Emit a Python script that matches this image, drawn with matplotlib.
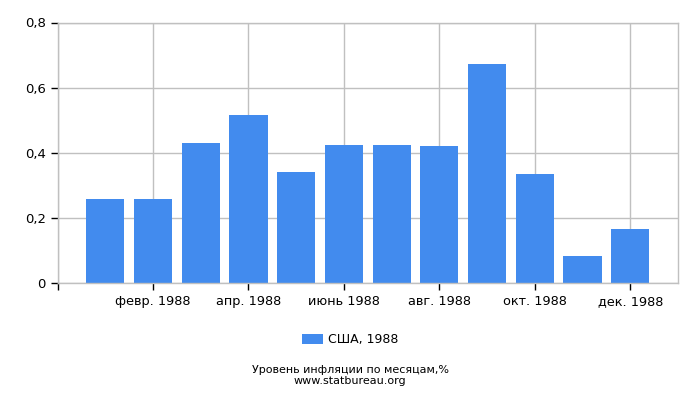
import matplotlib
matplotlib.use("Agg")
import matplotlib.pyplot as plt

# data
months = list(range(1, 13))
values = [0.258, 0.258, 0.43, 0.516, 0.341, 0.424, 0.424, 0.421, 0.673, 0.335, 0.083, 0.166]
tick_pos = [0, 2, 4, 6, 8, 10, 12]
tick_labels = ["", "февр. 1988", "апр. 1988", "июнь 1988", "авг. 1988", "окт. 1988", "дек. 1988"]
y_ticks = [0, 0.2, 0.4, 0.6, 0.8]
y_labels = ["0", "0,2", "0,4", "0,6", "0,8"]
series_name = "США, 1988"

plt.rcParams['font.family'] = ['DejaVu Sans']

fig = plt.figure(figsize=(7, 4), dpi=100)
ax = fig.add_axes([57.5 / 700, 1 - 283 / 400, (678 - 57.5) / 700, (283 - 22.5) / 400])

ax.bar(months, values, width=0.8, color="#428bee", label=series_name, zorder=2)

ax.set_xlim(0, 13)
ax.set_ylim(0, 0.8)
ax.set_xticks(tick_pos)
ax.set_xticklabels(tick_labels, fontsize=9.3)
ax.set_yticks(y_ticks)
ax.set_yticklabels(y_labels, fontsize=9.5)
ax.grid(True, color="#c0c0c0", linewidth=1, zorder=0)
ax.tick_params(length=5, color="black", width=1)

for s in ax.spines.values():
    s.set_color("#c0c0c0")
    s.set_linewidth(1)

fig.legend(loc="center", bbox_to_anchor=(0.5, 1 - 340 / 400), frameon=False,
           fontsize=9, handlelength=1.7, handleheight=0.8, handletextpad=0.4)

fig.text(0.5, 1 - 370 / 400, "Уровень инфляции по месяцам,%", ha="center", va="center", fontsize=8)
fig.text(0.5, 1 - 381.5 / 400, "www.statbureau.org", ha="center", va="center", fontsize=8)

fig.savefig("out.png", dpi=100)
